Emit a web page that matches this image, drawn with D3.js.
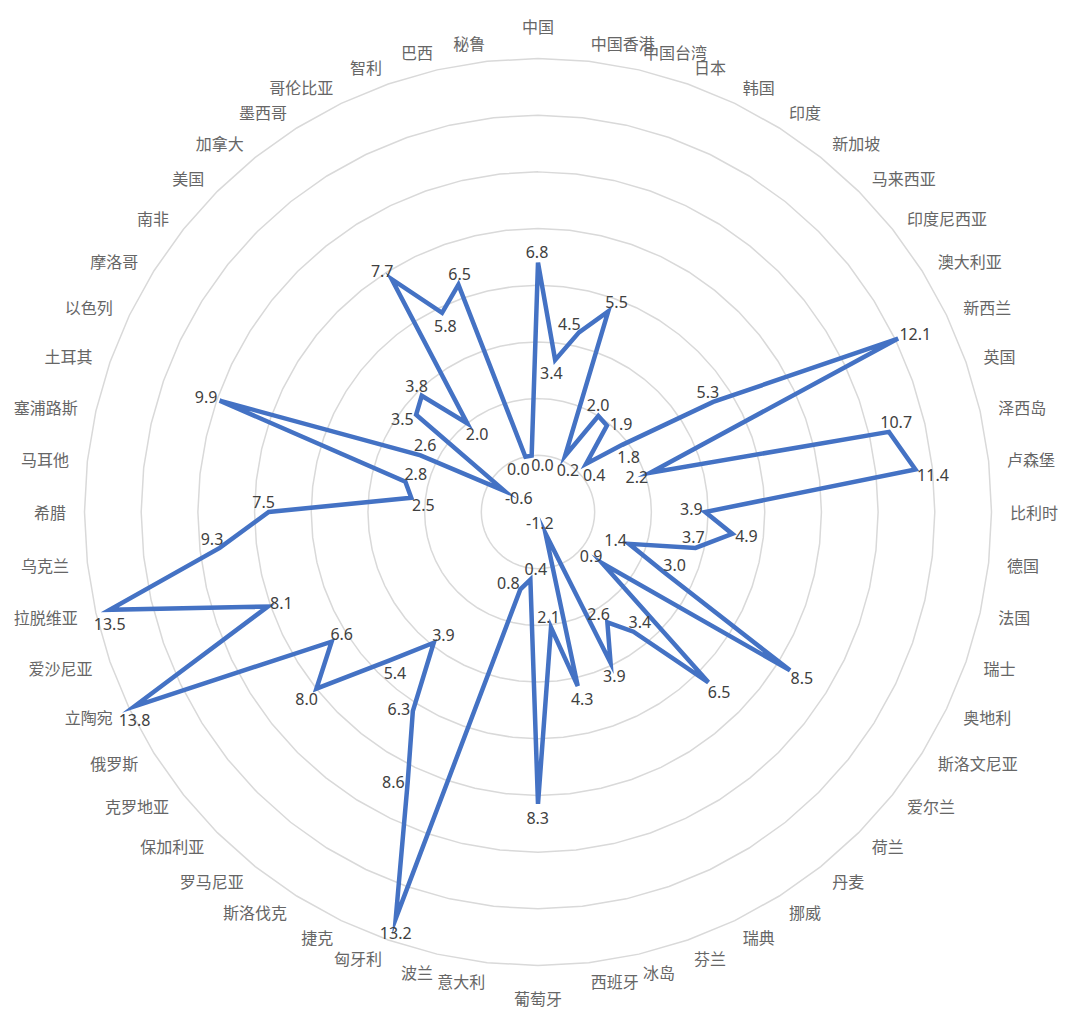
<!DOCTYPE html>
<html>
<head>
  <meta charset="utf-8">
  <script type="text/javascript" src="https://cdn.jsdelivr.net/npm/d3@7/dist/d3.min.js"></script>
  <style>
  body{
    margin:0;
    background:#fff;
  }
  .grid{
    fill:none;
    stroke:#d9d9d9;
    stroke-width:1.5;
  }
  .series{
    fill:none;
    stroke:#4472c4;
    stroke-width:4.5;
    stroke-linejoin:miter;
    stroke-miterlimit:8;
  }
  .cat{
    font-family:"Noto Sans CJK SC", "Noto Sans", sans-serif;
    font-size:16px;
    fill:#666;
  }
  .val{
    font-family:"Noto Sans", "Open Sans", sans-serif;
    font-size:16px;
    fill:#404040;
  }
  </style>
</head>
<body>
  <svg width="1080" height="1019"></svg>
<script>
var categories = ["中国","中国香港","中国台湾","日本","韩国","印度","新加坡","马来西亚","印度尼西亚","澳大利亚",
  "新西兰","英国","泽西岛","卢森堡","比利时","德国","法国","瑞士","奥地利","斯洛文尼亚",
  "爱尔兰","荷兰","丹麦","挪威","瑞典","芬兰","冰岛","西班牙","葡萄牙","意大利",
  "波兰","匈牙利","捷克","斯洛伐克","罗马尼亚","保加利亚","克罗地亚","俄罗斯","立陶宛","爱沙尼亚",
  "拉脱维亚","乌克兰","希腊","马耳他","塞浦路斯","土耳其","以色列","摩洛哥","南非","美国",
  "加拿大","墨西哥","哥伦比亚","智利","巴西","秘鲁"];

var values = [6.8,3.4,4.5,5.5,0.2,2.0,1.9,0.4,1.8,5.3,
  12.1,2.2,10.7,11.4,3.9,4.9,3.7,1.4,3.0,8.5,
  0.9,6.5,3.4,2.6,3.9,-1.2,4.3,2.1,8.3,0.4,
  0.8,13.2,8.6,6.3,3.9,5.4,8.0,6.6,13.8,8.1,
  13.5,9.3,7.5,2.5,2.8,9.9,2.6,-0.6,3.5,3.8,
  2.0,7.7,5.8,6.5,0.0,0.0];

var axisMin = -2, axisMax = 14, axisStep = 2;

(function (d3){
  'use strict';
  var svg = d3.select("svg"),
      cx = 538, cy = 512,
      outer = 453.5,
      n = categories.length;

  var r = d3.scaleLinear().domain([axisMin, axisMax]).range([0, outer]);
  var angle = d3.scaleLinear().domain([0, n]).range([0, 2 * Math.PI]);

  var g = svg.append("g")
      .attr("transform", "translate(" + cx + "," + cy + ")");

  function pt(i, rad){
    var a = angle(i);
    return [rad * Math.sin(a), -rad * Math.cos(a)];
  }

  // ring gridlines (n-sided polygons like excel)
  var rings = d3.range(axisMin + axisStep, axisMax + 0.001, axisStep);
  g.selectAll(".grid")
    .data(rings)
    .enter()
    .append("path")
    .attr("class", "grid")
    .attr("d", function(v){
      return d3.line()(d3.range(n).map(function(i){ return pt(i, r(v)); })) + "Z";
    });

  // series
  var line = d3.lineRadial()
      .angle(function(d, i){ return angle(i); })
      .radius(function(d){ return r(d); })
      .curve(d3.curveLinearClosed);

  g.append("path")
    .datum(values)
    .attr("class", "series")
    .attr("d", line);

  // data labels
  var pts = values.map(function(v, i){ return pt(i, r(v)); });

  function unit(a, b){
    var dx = b[0] - a[0], dy = b[1] - a[1], l = Math.sqrt(dx * dx + dy * dy) || 1;
    return [dx / l, dy / l];
  }
  function rot(d, deg){
    var a = deg * Math.PI / 180, c = Math.cos(a), s = Math.sin(a);
    return [d[0] * c - d[1] * s, d[0] * s + d[1] * c];
  }

  var labels = g.selectAll(".val")
    .data(values)
    .enter()
    .append("text")
    .attr("class", "val")
    .attr("text-anchor", "middle")
    .attr("dominant-baseline", "central")
    .text(function(v){ return v.toFixed(1); });

  var boxes = [];
  labels.each(function(v, i){
    var p = pts[i],
        w = this.getComputedTextLength(),
        u1 = unit(p, pts[(i - 1 + n) % n]),
        u2 = unit(p, pts[(i + 1) % n]),
        sx = u1[0] + u2[0], sy = u1[1] + u2[1],
        sl = Math.sqrt(sx * sx + sy * sy), dir;
    if (r(v) > outer - 35) {
      // near the rim: drop the label under the point
      dir = [0, 1];
    } else if (sl > 0.2) {
      dir = [-sx / sl, -sy / sl];
    } else {
      var tx = u2[0] - u1[0], ty = u2[1] - u1[1], tl = Math.sqrt(tx * tx + ty * ty);
      dir = [ty / tl, -tx / tl];
    }
    boxes.push({i: i, p: p, w: w, dir: dir, flat: sl < 0.5});
  });

  function place(b, d){
    b.x = b.p[0] + d[0] * (b.w / 2 + 3);
    b.y = b.p[1] + d[1] * (d[1] > 0 ? 14 : 11);
  }
  function hits(b){
    return boxes.filter(function(o){
      return o !== b && Math.abs(o.x - b.x) < (o.w + b.w) / 2 + 1 && Math.abs(o.y - b.y) < 13;
    }).length;
  }
  boxes.forEach(function(b){ place(b, b.dir); });

  // move colliding labels round their point
  var flatTries = [0, 180, -40, 40],
      sharpTries = [0, -40, 40, -80, 80];
  [0, 1, 2].forEach(function(){
    boxes.forEach(function(b){
      var h0 = hits(b);
      if (!h0) return;
      var best = null, bestHits = Infinity;
      (b.flat ? flatTries : sharpTries).forEach(function(t){
        place(b, rot(b.dir, t));
        var h = hits(b);
        if (h < bestHits) { bestHits = h; best = t; }
      });
      place(b, rot(b.dir, best));
    });
  });

  labels
    .attr("x", function(v, i){ return boxes[i].x; })
    .attr("y", function(v, i){ return boxes[i].y; });

  // category labels
  var labelR = 472;
  g.selectAll(".cat")
    .data(categories)
    .enter()
    .append("text")
    .attr("class", "cat")
    .attr("dominant-baseline", "central")
    .each(function(c, i){
      var a = angle(i), s = Math.sin(a), co = Math.cos(a),
          x = labelR * s, y = -labelR * co, anchor = "middle";
      if (Math.abs(s) < 0.01) {
        y -= co * 14;
      } else {
        anchor = s > 0 ? "start" : "end";
      }
      d3.select(this)
        .attr("x", x)
        .attr("y", y)
        .attr("text-anchor", anchor)
        .text(c);
    });
})(window.d3);
</script>
</body>
</html>
